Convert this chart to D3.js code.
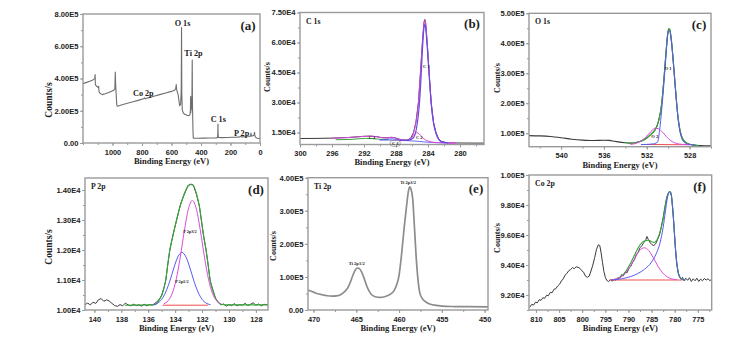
<!DOCTYPE html>
<html>
<head>
<meta charset="utf-8">
<script src="https://cdn.jsdelivr.net/npm/d3@7"></script>
<style>
  html, body { margin: 0; padding: 0; background: #fff; }
  svg { display: block; font-family: "Liberation Serif", "Times New Roman", serif; font-weight: bold; }
</style>
</head>
<body>
<svg id="chart" width="756" height="339"></svg>
<script>
// ---------------- spectra: [binding energy (eV), counts/s] ----------------

// (a) survey spectrum
const surveySpectrum = [[1200,368000],[1175,376000],[1150,385000],[1130,393000],[1121,398000],[1118,425000],[1116,362000],[1108,352000],[1098,345000],[1094,352000],[1091,318000],[1085,308000],[1070,300000],[1050,305000],[1030,312000],[1010,320000],[992,327000],[984,335000],[981,440000],[979,370000],[975,300000],[971,235000],[967,228000],[940,236000],[900,246000],[860,256000],[820,266000],[790,274000],[783,280000],[778,274000],[760,280000],[720,290000],[680,300000],[640,310000],[600,320000],[580,327000],[572,335000],[568,362000],[565,330000],[555,300000],[545,232000],[538,240000],[534,330000],[532,716000],[530,300000],[527,205000],[520,186000],[510,178000],[495,172000],[482,170000],[475,175000],[472,200000],[470,290000],[469,190000],[467,230000],[465,280000],[464,210000],[462,220000],[459.5,515000],[458,250000],[456,150000],[454,60000],[452,30000],[448,29000],[420,29500],[380,30000],[340,31000],[300,32000],[288,33000],[286,60000],[285,118000],[284,60000],[282,34000],[260,33500],[220,34000],[190,35500],[160,36000],[135,38000],[130,41000],[126,38000],[100,39000],[70,40000],[64,45000],[61,62000],[58,42000],[45,46000],[40,50000],[37,67000],[34,42000],[28,34000],[18,30000],[8,28000],[0,27000]];

// (b) C 1s
const c1sData = [[300,12000],[298,12050],[296,12200],[294,12500],[293,12800],[292,13100],[291.2,13200],[290.4,12900],[289.8,12450],[289.2,12300],[288.6,12600],[288.2,12450],[287.7,11800],[287.2,11300],[286.7,11200],[286.2,11900],[285.8,15000],[285.5,20500],[285.2,30000],[284.94,45000],[284.7,60000],[284.5,70000],[284.4,71500],[284.3,70000],[284.1,60000],[283.86,45000],[283.6,30000],[283.3,20000],[283.0,15000],[282.7,12000],[282.3,10500],[281.5,9800],[280,9750],[278,9700],[277,9700]];
const c1sEnvelope = [[296,12150],[294,12450],[293,12750],[292,13050],[291.2,13150],[290.4,12850],[289.8,12400],[289.2,12250],[288.6,12550],[288.2,12400],[287.7,11750],[287.2,11250],[286.7,11150],[286.2,11850],[285.8,14900],[285.5,20300],[285.2,29800],[284.94,44800],[284.7,59800],[284.5,69800],[284.4,71300],[284.3,69800],[284.1,59800],[283.86,44800],[283.6,29800],[283.3,19800],[283.0,14800],[282.7,11900],[282.3,10400],[281.5,9750],[280.5,9700]];
const c1sPeakC1 = [[287.5,11000],[286.5,11050],[285.8,12500],[285.4,18000],[285.1,28000],[284.9,40000],[284.7,56000],[284.5,67500],[284.4,69000],[284.3,67500],[284.1,58000],[283.86,44000],[283.6,29500],[283.3,19500],[283.0,14500],[282.7,11800],[282.3,10300],[281.8,9900],[281.5,9850]];
const c1sPeakC2 = [[287.5,10900],[286.8,11000],[286.3,11600],[286.0,12600],[285.7,14100],[285.4,14900],[285.1,14300],[284.8,13000],[284.5,11800],[284.1,10900],[283.6,10300],[283.0,10000],[282,9850],[281,9800],[280.5,9800]];
const c1sPeakC3 = [[290,11300],[289.4,11450],[288.8,11800],[288.4,11850],[288,11600],[287.5,11300],[287,11200]];
const c1sPeakC4 = [[295.5,11400],[294.5,11450],[293.5,11600],[292.5,11900],[291.8,12050],[291,11950],[290.2,11650],[289.5,11450],[289,11400]];
const c1sBackground = [[290,11300],[288,11150],[287,11000],[286,10800],[285,10500],[284,10150],[283,9900],[282,9780],[281,9750]];

// (c) O 1s
const o1sData = [[543,92000],[542,91000],[541,89000],[540,85000],[539,80000],[538,77000],[537,75500],[536,76500],[535.5,76000],[535,73000],[534,68000],[533.5,67000],[533,69000],[532.5,74000],[532,84000],[531.5,100000],[531.2,112000],[530.9,140000],[530.6,200000],[530.4,280000],[530.2,370000],[530.05,430000],[529.95,448000],[529.85,445000],[529.7,410000],[529.5,330000],[529.3,240000],[529.1,160000],[528.9,110000],[528.7,85000],[528.4,70000],[528,63000],[527.5,60000],[527,59000],[526,58000]];
const o1sEnvelope = [[534,68000],[533.5,67200],[533,69200],[532.5,74200],[532,84200],[531.5,100200],[531.2,112500],[530.9,140500],[530.6,200500],[530.4,280500],[530.2,370500],[530.05,430500],[529.95,448500],[529.85,445500],[529.7,410500],[529.5,330500],[529.3,240500],[529.1,160500],[528.9,110500],[528.7,85500],[528.4,70500],[528,63300],[527.5,60300],[527.2,59500]];
const o1sPeakO1 = [[532.5,62000],[531.5,64000],[531,70000],[530.8,110000],[530.6,180000],[530.4,265000],[530.2,360000],[530.05,425000],[529.95,443000],[529.85,440000],[529.7,405000],[529.5,325000],[529.3,235000],[529.1,155000],[528.9,105000],[528.7,80000],[528.4,67000],[528,62000],[527.5,61000]];
const o1sPeakO2 = [[533.5,63000],[533,66000],[532.5,75000],[532,90000],[531.6,106000],[531.2,116500],[530.9,115000],[530.6,106000],[530.2,90000],[529.8,76000],[529.4,68000],[529,64000],[528.5,62500],[528,62000]];
const o1sBackground = [[532.5,62500],[528,61500]];

// (d) P 2p
const p2pData = [[140.7,10180],[140.5,10230],[140.3,10170],[140.1,10260],[139.9,10220],[139.7,10340],[139.5,10380],[139.3,10290],[139.1,10340],[138.9,10300],[138.7,10220],[138.5,10150],[138.3,10120],[138.1,10180],[137.9,10140],[137.7,10230],[137.5,10170],[137.3,10140],[137.1,10190],[136.9,10150],[136.7,10170],[136.5,10130],[136.3,10190],[136.1,10140],[135.9,10180],[135.7,10160],[135.5,10220],[135.2,10340],[135.0,10480],[134.8,10800],[134.7,10980],[134.55,11520],[134.4,11980],[134.15,12530],[133.9,12980],[133.6,13530],[133.3,13880],[133.05,14150],[132.85,14180],[132.65,14170],[132.4,13830],[132.2,13470],[132.05,12980],[131.9,12520],[131.7,11980],[131.55,11520],[131.4,10980],[131.2,10670],[131.0,10380],[130.8,10270],[130.6,10170],[130.4,10200],[130.2,10130],[130.0,10180],[129.8,10150],[129.6,10210],[129.4,10140],[129.2,10180],[129.0,10160],[128.8,10220],[128.6,10150],[128.4,10190],[128.2,10240],[128.0,10160],[127.8,10200],[127.6,10140],[127.4,10190],[127.1,10170]];
const p2pEnvelope = [[137.7,10160],[135.5,10180],[135.2,10320],[135.0,10500],[134.8,10780],[134.7,11000],[134.55,11500],[134.4,12000],[134.15,12500],[133.9,13000],[133.6,13500],[133.3,13900],[133.05,14120],[132.85,14200],[132.65,14150],[132.4,13850],[132.2,13450],[132.05,13000],[131.9,12500],[131.7,12000],[131.55,11500],[131.4,11000],[131.2,10650],[131.0,10400],[130.8,10250],[130.6,10190],[130.2,10170],[127.1,10170]];
const p2pPeak32 = [[134.82,10210],[134.52,10310],[134.22,10550],[133.92,11025],[133.62,11760],[133.32,12630],[133.02,13360],[132.72,13650],[132.42,13360],[132.12,12630],[131.82,11760],[131.52,11025],[131.22,10550],[130.92,10310],[130.62,10210]];
const p2pPeak12 = [[135.6,10180],[135.3,10230],[135.0,10355],[134.7,10600],[134.4,10960],[134.1,11400],[133.8,11770],[133.5,11920],[133.2,11770],[132.9,11400],[132.6,10960],[132.3,10600],[132.0,10355],[131.7,10230],[131.4,10180]];
const p2pBackground = [[134.9,10160],[131.6,10160]];

// (e) Ti 2p
const ti2pData = [[470.65,60000],[470,54000],[469.6,50000],[469,46000],[468.4,43000],[467.8,42000],[467.3,42500],[466.8,47000],[466.4,55000],[466.0,67000],[465.7,84000],[465.4,105000],[465.1,122000],[464.9,127000],[464.7,126000],[464.4,116000],[464.1,97000],[463.8,74000],[463.5,57000],[463.2,46000],[462.8,40000],[462.2,38000],[461.6,41000],[461.0,48000],[460.6,58000],[460.3,75000],[460.0,105000],[459.7,170000],[459.4,250000],[459.1,320000],[458.9,360000],[458.75,372000],[458.6,365000],[458.4,335000],[458.2,250000],[458.0,160000],[457.8,95000],[457.6,55000],[457.3,35000],[457.0,27000],[456.5,19000],[455.7,14000],[455,12000],[453.5,10500],[452,10000],[449.6,9500]];

// (f) Co 2p
const co2pData = [[811.3,91200],[810.9,91380],[810.5,91330],[810.1,91520],[809.7,91480],[809.3,91690],[808.9,91640],[808.5,91820],[808.1,91780],[807.7,91980],[807.3,91950],[806.9,92180],[806.5,92150],[806.1,92380],[805.7,92420],[805.3,92600],[804.9,92720],[804.5,92930],[804.1,93080],[803.7,93320],[803.3,93450],[802.9,93620],[802.5,93700],[802.1,93820],[801.7,93760],[801.3,93880],[800.9,93850],[800.5,93780],[800.1,93620],[799.7,93520],[799.3,93260],[798.9,93180],[798.5,93250],[798.1,93600],[797.7,94000],[797.3,94500],[796.9,95050],[796.5,95350],[796.2,95300],[795.9,94800],[795.6,94150],[795.3,93560],[795.0,93180],[794.7,92980],[794.3,92900],[793.9,93020],[793.5,92920],[793.1,93060],[792.7,92980],[792.3,93150],[791.9,93120],[791.5,93350],[791.1,93280],[790.7,93520],[790.3,93480],[789.9,93780],[789.5,93900],[789.1,94180],[788.7,94350],[788.3,94700],[787.9,94850],[787.5,95150],[787.1,95280],[786.7,95500],[786.3,95620],[786.0,95900],[785.7,95700],[785.3,95480],[784.9,95350],[784.5,95300],[784.1,95420],[783.7,95700],[783.3,96000],[782.9,96550],[782.5,97150],[782.1,97900],[781.7,98550],[781.3,98850],[781.0,98900],[780.7,98600],[780.4,97600],[780.1,96300],[779.8,95000],[779.5,94000],[779.2,93400],[778.9,93150],[778.6,93050],[778.3,93180],[778.0,92950],[777.6,93120],[777.2,92980],[776.8,93150],[776.4,92900],[776.0,93080],[775.6,92950],[775.2,93120],[774.8,92900],[774.4,93060],[774.0,92950],[773.6,93100],[773.2,93000],[772.8,93080],[772.4,92960],[772.0,93050]];
const co2pEnvelope = [[793.6,93020],[792.6,93070],[791.6,93230],[790.6,93560],[789.6,94080],[788.6,94720],[787.6,95300],[786.6,95600],[785.6,95650],[785,95550],[784.4,95500],[783.8,95700],[783.2,96150],[782.6,96900],[782.1,97800],[781.6,98550],[781.1,98900],[780.8,98800],[780.5,98050],[780.2,96850],[779.9,95350],[779.6,94250],[779.2,93480],[778.8,93170],[778.3,93040],[777.8,93000]];
const co2pMain = [[793.5,93000],[791.5,93080],[789.5,93230],[788,93430],[786.5,93720],[785,94200],[784,94750],[783.2,95450],[782.5,96500],[782,97600],[781.6,98450],[781.1,98880],[780.8,98800],[780.5,98000],[780.2,96800],[779.9,95300],[779.6,94200],[779.2,93450],[778.8,93150],[778.3,93030],[777.8,93000]];
const co2pSatellite = [[793.6,93020],[792.6,93070],[791.6,93200],[790.6,93470],[789.6,93914],[788.6,94470],[787.6,94955],[786.6,95150],[785.6,94955],[784.6,94470],[783.6,93914],[782.6,93470],[781.6,93200],[780.6,93070],[779.6,93020]];
const co2pBackground = [[794,93000],[778.5,93000]];

// ---------------- axis ticks and labels ----------------
const aXTicks = [1000, 800, 600, 400, 200, 0];
const aXTickLabels = ["1000", "800", "600", "400", "200", "0"];
const aYTicks = [0, 200000, 400000, 600000, 800000];
const aYTickLabels = ["0.00", "2.00E5", "4.00E5", "6.00E5", "8.00E5"];

const bXTicks = [300, 296, 292, 288, 284, 280];
const bXTickLabels = ["300", "296", "292", "288", "284", "280"];
const bYTicks = [15000, 30000, 45000, 60000, 75000];
const bYTickLabels = ["1.50E4", "3.00E4", "4.50E4", "6.00E4", "7.50E4"];

const cXTicks = [540, 536, 532, 528];
const cXTickLabels = ["540", "536", "532", "528"];
const cYTicks = [100000, 200000, 300000, 400000, 500000];
const cYTickLabels = ["1.00E5", "2.00E5", "3.00E5", "4.00E5", "5.00E5"];

const dXTicks = [140, 138, 136, 134, 132, 130, 128];
const dXTickLabels = ["140", "138", "136", "134", "132", "130", "128"];
const dYTicks = [10000, 11000, 12000, 13000, 14000];
const dYTickLabels = ["1.00E4", "1.10E4", "1.20E4", "1.30E4", "1.40E4"];

const eXTicks = [470, 465, 460, 455, 450];
const eXTickLabels = ["470", "465", "460", "455", "450"];
const eYTicks = [0, 100000, 200000, 300000, 400000];
const eYTickLabels = ["0.00", "1.00E5", "2.00E5", "3.00E5", "4.00E5"];

const fXTicks = [810, 805, 800, 795, 790, 785, 780, 775];
const fXTickLabels = ["810", "805", "800", "795", "790", "785", "780", "775"];
const fYTicks = [92000, 94000, 96000, 98000, 100000];
const fYTickLabels = ["9.20E4", "9.40E4", "9.60E4", "9.80E4", "1.00E5"];

// peak annotations: [text, energy, counts]
const surveyNotes = [["O 1s", 525, 742000], ["Ti 2p", 451, 556000], ["Co 2p", 791, 312000], ["C 1s", 283, 147000], ["P 2p", 125, 60000]];
const c1sNotes = [["C 1", 284.2, 47900], ["C 2", 285.1, 12600], ["C 3", 288.1, 9600], ["C 4", 291.0, 12750]];
const o1sNotes = [["O 1", 530.0, 316700], ["O 2", 531.25, 88700]];
const p2pNotes = [["P 2p3/2", 132.9, 12610], ["P 2p1/2", 133.5, 10943]];
const ti2pNotes = [["Ti 2p1/2", 464.95, 141000], ["Ti 2p3/2", 458.95, 386000]];

// ---------------- drawing ----------------
const COLORS = {
  data: "#3a3a3a", survey: "#6e6e6e", ti: "#8c8c8c",
  green: "#36a83a", blue: "#5a5af0", magenta: "#dd4ade", red: "#f04c4c",
  frame: "#9a9a9a", text: "#222"
};

const svg = d3.select("#chart");
const defs = svg.append("defs");

function minorTicks(domain, step) {
  const lo = Math.min(domain[0], domain[1]), hi = Math.max(domain[0], domain[1]);
  return d3.range(Math.ceil(lo / step) * step, hi + 1e-9, step);
}

function drawPanel(p) {
  const [L, T, R, B] = p.box;
  const x = d3.scaleLinear().domain(p.xDomain).range([L, R]);
  const y = d3.scaleLinear().domain(p.yDomain).range([B, T]);
  const g = svg.append("g");

  defs.append("clipPath").attr("id", "clip-" + p.letter)
    .append("rect").attr("x", L).attr("y", T).attr("width", R - L).attr("height", B - T);

  // minor ticks
  g.append("g").attr("transform", `translate(0,${B})`)
    .call(d3.axisBottom(x).tickValues(minorTicks(p.xDomain, p.xMinor)).tickSize(2).tickFormat(""));
  g.append("g").attr("transform", `translate(${L},0)`)
    .call(d3.axisLeft(y).tickValues(minorTicks(p.yDomain, p.yMinor)).tickSize(2).tickFormat(""));
  // major ticks
  const xa = g.append("g").attr("transform", `translate(0,${B})`)
    .call(d3.axisBottom(x).tickValues(p.xTicks).tickSize(3).tickPadding(3.5)
      .tickFormat((d, i) => p.xLabels[i]));
  xa.selectAll("text").attr("font-size", 7.4);
  const ya = g.append("g").attr("transform", `translate(${L},0)`)
    .call(d3.axisLeft(y).tickValues(p.yTicks).tickSize(3).tickPadding(1.5)
      .tickFormat((d, i) => p.yLabels[i]));
  ya.selectAll("text").attr("font-size", 7.6);
  g.selectAll(".domain").remove();
  g.selectAll(".tick line").attr("stroke", COLORS.frame).attr("stroke-width", 1);
  g.selectAll(".tick text").attr("fill", COLORS.text).attr("font-family", null).attr("font-weight", "bold");

  // curves
  const plot = g.append("g").attr("clip-path", `url(#clip-${p.letter})`);
  p.series.forEach(s => {
    const line = d3.line().x(d => x(d[0])).y(d => y(d[1])).curve(s.curve || d3.curveLinear);
    plot.append("path").attr("d", line(s.pts))
      .attr("fill", "none").attr("stroke", s.color).attr("stroke-width", s.width)
      .attr("stroke-linejoin", "round").attr("stroke-linecap", "round");
  });

  // frame
  g.append("rect").attr("x", L).attr("y", T).attr("width", R - L).attr("height", B - T)
    .attr("fill", "none").attr("stroke", COLORS.frame).attr("stroke-width", 1.4);

  // annotations
  (p.notes || []).forEach(([t, ex, ey]) => {
    g.append("text").attr("x", x(ex)).attr("y", y(ey)).attr("dy", "0.35em")
      .attr("text-anchor", "middle").attr("font-size", p.noteSize).attr("fill", COLORS.text).text(t);
  });
  if (p.boxedNote) {
    const [t, ex, ey] = p.boxedNote;
    g.append("rect").attr("x", x(ex) - 5).attr("y", y(ey) - 3).attr("width", 10).attr("height", 6)
      .attr("rx", 2.5).attr("fill", "none").attr("stroke", "#777").attr("stroke-width", 0.6);
    g.append("text").attr("x", x(ex)).attr("y", y(ey)).attr("dy", "0.35em")
      .attr("text-anchor", "middle").attr("font-size", p.noteSize).attr("fill", COLORS.text).text(t);
  }

  // element label and panel letter
  if (p.element) {
    g.append("text").attr("x", L + 6).attr("y", T + 11).attr("font-size", 7.8)
      .attr("fill", COLORS.text).text(p.element);
  }
  g.append("text").attr("x", R - 12).attr("y", T + 11).attr("dy", "0.35em").attr("text-anchor", "middle")
    .attr("font-size", 13).attr("fill", COLORS.text).text(`(${p.letter})`);

  // axis titles
  g.append("text").attr("x", (L + R) / 2).attr("y", B + 18).attr("dy", "0.35em").attr("text-anchor", "middle")
    .attr("font-size", 8.5).attr("fill", COLORS.text).text("Binding Energy (eV)");
  g.append("text").attr("transform", `translate(${p.yTitle[0]},${p.yTitle[1]}) rotate(-90)`)
    .attr("dy", "0.35em").attr("text-anchor", "middle").attr("font-size", p.yTitle[2])
    .attr("fill", COLORS.text).text("Counts/s");
}

const smooth = d3.curveMonotoneX;

const panels = [
  { letter: "a", box: [83, 14, 260, 143], xDomain: [1200, 0], yDomain: [0, 800000],
    xTicks: aXTicks, xLabels: aXTickLabels, xMinor: 100, yTicks: aYTicks, yLabels: aYTickLabels, yMinor: 100000,
    yTitle: [49, 100, 9.5], notes: surveyNotes, noteSize: 8.2,
    series: [{ pts: surveySpectrum, color: COLORS.survey, width: 1.1 }] },
  { letter: "b", box: [300, 12.5, 484, 144.5], xDomain: [300, 277], yDomain: [9000, 75000],
    xTicks: bXTicks, xLabels: bXTickLabels, xMinor: 2, yTicks: bYTicks, yLabels: bYTickLabels, yMinor: 7500,
    yTitle: [267, 77, 8], element: "C 1s", notes: c1sNotes.filter(n => n[0] !== "C 3"), noteSize: 4.5,
    boxedNote: c1sNotes.find(n => n[0] === "C 3"),
    series: [
      { pts: c1sData, color: COLORS.data, width: 1 },
      { pts: c1sBackground, color: COLORS.blue, width: 0.9, curve: smooth },
      { pts: c1sPeakC4, color: COLORS.green, width: 1, curve: smooth },
      { pts: c1sPeakC3, color: COLORS.blue, width: 0.9, curve: smooth },
      { pts: c1sPeakC2, color: COLORS.magenta, width: 1, curve: smooth },
      { pts: c1sEnvelope, color: COLORS.magenta, width: 1, curve: smooth },
      { pts: c1sPeakC1, color: "#6a4ae6", width: 1.2, curve: smooth }
    ] },
  { letter: "c", box: [529, 13.3, 711, 146.7], xDomain: [543, 526], yDomain: [55000, 500000],
    xTicks: cXTicks, xLabels: cXTickLabels, xMinor: 2, yTicks: cYTicks, yLabels: cYTickLabels, yMinor: 50000,
    yTitle: [497, 78, 8], element: "O 1s", notes: o1sNotes, noteSize: 4.5,
    series: [
      { pts: o1sData, color: COLORS.data, width: 1.1, curve: smooth },
      { pts: o1sEnvelope, color: COLORS.green, width: 1.1, curve: smooth },
      { pts: o1sBackground, color: COLORS.red, width: 1 },
      { pts: o1sPeakO2, color: COLORS.magenta, width: 1, curve: smooth },
      { pts: o1sPeakO1, color: COLORS.blue, width: 1, curve: smooth }
    ] },
  { letter: "d", box: [85, 178, 268, 310], xDomain: [140.7, 127.1], yDomain: [10000, 14400],
    xTicks: dXTicks, xLabels: dXTickLabels, xMinor: 1, yTicks: dYTicks, yLabels: dYTickLabels, yMinor: 500,
    yTitle: [49, 247, 9.5], element: "P 2p", notes: p2pNotes, noteSize: 4.3,
    series: [
      { pts: p2pData, color: COLORS.data, width: 1 },
      { pts: p2pEnvelope, color: COLORS.green, width: 1.1, curve: smooth },
      { pts: p2pBackground, color: COLORS.red, width: 1 },
      { pts: p2pPeak12, color: COLORS.blue, width: 1, curve: smooth },
      { pts: p2pPeak32, color: COLORS.magenta, width: 1, curve: smooth }
    ] },
  { letter: "e", box: [308, 177.7, 488, 310], xDomain: [470.65, 449.6], yDomain: [0, 400000],
    xTicks: eXTicks, xLabels: eXTickLabels, xMinor: 2.5, yTicks: eYTicks, yLabels: eYTickLabels, yMinor: 50000,
    yTitle: [273, 246, 8], element: "Ti 2p", notes: ti2pNotes, noteSize: 4.5,
    series: [{ pts: ti2pData, color: COLORS.ti, width: 1.7, curve: smooth }] },
  { letter: "f", box: [529, 175, 711.7, 310], xDomain: [811.5, 772], yDomain: [91000, 100000],
    xTicks: fXTicks, xLabels: fXTickLabels, xMinor: 2.5, yTicks: fYTicks, yLabels: fYTickLabels, yMinor: 1000,
    yTitle: [497, 238, 8], element: "Co 2p", noteSize: 4.5,
    series: [
      { pts: co2pData, color: COLORS.data, width: 1 },
      { pts: co2pEnvelope, color: COLORS.green, width: 1.1, curve: smooth },
      { pts: co2pBackground, color: COLORS.red, width: 1 },
      { pts: co2pSatellite, color: COLORS.magenta, width: 1, curve: smooth },
      { pts: co2pMain, color: COLORS.blue, width: 1, curve: smooth }
    ] }
];

panels.forEach(drawPanel);
</script>
</body>
</html>
